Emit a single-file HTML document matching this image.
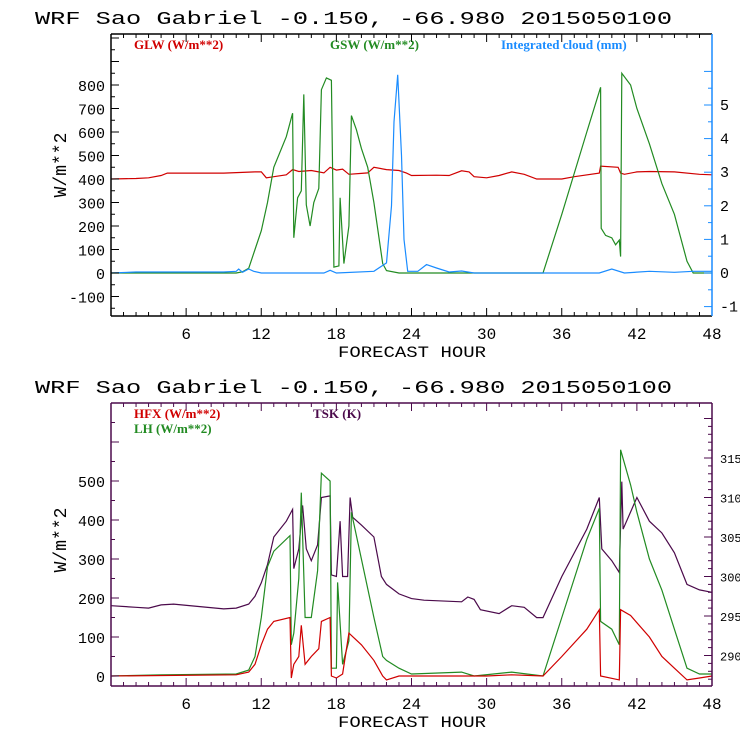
<!DOCTYPE html>
<html><head><meta charset="utf-8"><style>
body{margin:0;background:#fff}
svg{display:block}
text{font-family:"Liberation Mono",monospace}
.lg{font-family:"Liberation Serif",serif;font-size:13px}
</style></head><body>
<svg id="c" width="740" height="740" xmlns="http://www.w3.org/2000/svg"></svg>
<script>
// ---- Top panel data ----
const glwHours=[0,2,3,4,4.5,9,11.5,12,12.4,13,14,14.5,15,16,17,17.5,18,18.5,19,20,20.5,21,22,23,23.6,24,26,27,28,28.6,29,30,31,32,33,34,36,37,39,39.1,40.5,40.7,41,42,43,45,47,48];
const glwValues=[400,402,405,415,425,425,430,430,405,410,418,440,432,436,426,450,438,442,420,424,426,450,440,436,425,415,416,415,435,430,410,405,415,430,420,400,400,410,425,455,450,425,420,430,432,430,420,418];
const gswHours=[0,10,10.5,11,11.5,12,12.5,13,14,14.5,14.6,14.9,15.2,15.4,15.6,15.9,16.2,16.6,16.8,17.2,17.6,17.8,18.2,18.3,18.6,19,19.2,19.6,20,20.5,21,21.7,22,23,34.5,36,38,39.1,39.15,39.5,40,40.3,40.6,40.7,40.8,41.5,42,43,44,45,46,46.5,48];
const gswValues=[0,0,5,20,100,180,300,450,580,680,150,320,350,760,290,200,300,360,780,830,820,25,30,320,40,200,670,610,530,450,300,40,10,0,0,250,600,790,190,160,150,120,140,70,850,800,700,550,380,250,50,0,0];
const cloudHours=[0,2,9,10,10.2,10.5,11,11.4,12,17,17.5,18,21,22,22.4,22.6,22.9,23.2,23.4,23.7,24.5,25.2,26,27,28,29,39,40,41,43,45,46.5,48];
const cloudValues=[0,0.03,0.03,0.05,0.12,0.02,0.12,0.05,0,0,0.08,0,0.05,0.3,2,4.5,5.9,3.5,1,0.05,0.05,0.25,0.15,0.03,0.06,0,0,0.12,0,0.05,0.02,0.05,0.05];
// ---- Bottom panel data ----
const tskHours=[0,2,3,4,5,7,9,10,11,11.5,12,12.5,13,14,14.5,14.6,15,15.3,15.6,16,16.5,16.8,17.5,17.6,18,18.3,18.5,18.9,19.1,19.3,20,21,21.6,22,23,24,25,28,28.5,29,29.5,31,32,33,34,34.5,36,38,39,39.2,40,40.6,40.8,40.9,42,43,44,45,46,47,48];
const tskValues=[296.3,296.1,296,296.4,296.5,296.2,295.9,296,296.5,297.5,299.2,301.5,305,307,308.5,301,303.5,309,303.5,302,304,310,310.2,300.2,300,307,300,300,310,307.5,306.5,305,300,299,297.8,297.2,297,296.8,297.4,297.1,295.8,295.3,296.3,296.1,294.8,294.8,300,306,310,303.5,302,300.5,312,306,310,307,305.5,303,299,298.3,298];
const hfxHours=[0,10,11,11.5,12,12.5,13,14.3,14.4,14.6,15,15.2,15.5,16,16.6,16.8,17.5,17.6,18,18.5,19,20,21,21.7,22,23,24,28,30,32,34.5,36,38,39,39.1,40.6,40.7,41.5,43,44,45,46,47,48];
const hfxValues=[0,3,10,30,80,120,140,150,-5,30,50,130,30,50,70,140,150,0,-5,5,110,80,40,0,-10,0,0,0,0,3,0,50,120,170,0,-10,170,155,100,50,20,-10,-5,0];
const lhHours=[0,4,10,11,11.5,12,12.5,13,14.3,14.4,14.6,15,15.2,15.5,16,16.5,16.8,17.5,17.6,18,18.1,18.5,19,19.2,20,21,21.7,22,23,24,28,29,32,34.5,36,38,39,39.1,40,40.6,40.7,41.5,42,43,44,45,46,47,48];
const lhValues=[0,3,5,15,50,150,280,320,360,80,110,250,470,150,150,270,520,500,20,20,240,30,90,420,300,150,50,40,20,5,10,0,10,0,150,350,430,140,120,80,580,490,420,300,220,120,20,5,5];
const xTicks=[6,12,18,24,30,36,42,48];
const topLeftTicks=[-100,0,100,200,300,400,500,600,700,800];
const topRightTicks=[-1,0,1,2,3,4,5];
const botLeftTicks=[0,100,200,300,400,500];
const botRightTicks=[290,295,300,305,310,315];

const svg=document.getElementById('c');
const NS='http://www.w3.org/2000/svg';
function mk(tag,attrs,parent,txt){const e=document.createElementNS(NS,tag);for(const k in attrs)e.setAttribute(k,attrs[k]);if(txt!==undefined)e.textContent=txt;(parent||svg).appendChild(e);return e;}

function panel(o){
  const g=mk('g',{});
  
  
  const L=111,R=712,T=o.top,B=o.bottom;
  const xs=h=>L+(R-L)*h/48;
  const yl=v=>o.y0+(v-o.l0)*(o.y1-o.y0)/(o.l1-o.l0);
  const yr=v=>o.y0r+(v-o.r0)*(o.y1r-o.y0r)/(o.r1-o.r0);
  const t=mk('text',{x:35,y:T-10,'font-size':18,textLength:637,lengthAdjust:'spacingAndGlyphs'},g,'WRF  Sao Gabriel   -0.150, -66.980  2015050100');
  
  const cid='clip'+o.name;
  const cp=mk('clipPath',{id:cid},g);mk('rect',{x:L,y:T,width:R-L,height:B-T},cp);
  o.series.forEach(s=>{
    const sc=s.axis==='r'?yr:yl;
    const pts=s.h.map((h,i)=>xs(h).toFixed(1)+','+sc(s.v[i]).toFixed(1)).join(' ');
    const p=mk('polyline',{points:pts,fill:'none',stroke:s.color,'stroke-width':1.2,'clip-path':'url(#'+cid+')'},g);
    
  });
  mk('line',{x1:L,y1:T,x2:R,y2:T,stroke:o.frame,'stroke-width':1.5},g);
  mk('line',{x1:L,y1:B,x2:R,y2:B,stroke:o.frame,'stroke-width':1.5},g);
  mk('line',{x1:L,y1:T,x2:L,y2:B,stroke:o.frame,'stroke-width':1.5},g);
  mk('line',{x1:R,y1:T,x2:R,y2:B,stroke:o.rcolor,'stroke-width':1.5},g);
  for(let h=1;h<48;h++){const x=xs(h),len=h%6===0?8:4;
    mk('line',{x1:x,y1:B,x2:x,y2:B-len,stroke:o.frame},g);mk('line',{x1:x,y1:T,x2:x,y2:T+len,stroke:o.frame},g);}
  xTicks.forEach(h=>{const tx=mk('text',{x:xs(h),y:B+23,'font-size':16,'text-anchor':'middle'},g,String(h));
    });
  const xt=mk('text',{x:412,y:B+41,'font-size':16,'text-anchor':'middle',textLength:148,lengthAdjust:'spacingAndGlyphs'},g,'FORECAST HOUR');
  
  for(let v=o.lmin;v<=o.lmax;v+=50){const y=yl(v);if(y<T||y>B)continue;const len=v%100===0?8:4;
    mk('line',{x1:L,y1:y,x2:L+len,y2:y,stroke:o.frame},g);}
  o.lt.forEach(v=>{const tx=mk('text',{x:105,y:yl(v)+6,'font-size':15,'text-anchor':'end'},g,String(v));
    });
  const yt=mk('text',{x:0,y:0,'font-size':18,'text-anchor':'middle',transform:`translate(${o.ytx},${o.yty}) rotate(-90)`},g,'W/m**2');
  
  for(let v=o.rmin;v<=o.rmax+1e-9;v+=o.rstep){const y=yr(v);if(y<T||y>B)continue;const major=Math.abs(v/o.rmajor-Math.round(v/o.rmajor))<1e-6;
    mk('line',{x1:R,y1:y,x2:R-(major?8:4),y2:y,stroke:o.rcolor},g);}
  o.rt.forEach(v=>{const tx=mk('text',{x:R+8,y:yr(v)+5,'font-size':o.rfs,fill:o.rtextcolor},g,String(v));
    });
  o.legend.forEach(l=>{const tx=mk('text',{x:l.x,y:l.y,class:'lg',fill:l.color,'font-weight':'bold'},g,l.text);
    });
}

panel({name:'radiation-panel',top:34,bottom:316,y0:273,l0:0,y1:85,l1:800,lmin:-150,lmax:1000,lt:topLeftTicks,
  y0r:273,r0:0,y1r:105,r1:5,rmin:-1.5,rmax:6,rstep:0.5,rmajor:1,rt:topRightTicks,rcolor:'#1a8cff',rtextcolor:'#000',rfs:15,
  frame:'#000',ytx:66,yty:165,
  series:[{name:'glw-line',h:glwHours,v:glwValues,color:'#d00000',axis:'l'},
          {name:'gsw-line',h:gswHours,v:gswValues,color:'#228b22',axis:'l'},
          {name:'cloud-line',h:cloudHours,v:cloudValues,color:'#1a8cff',axis:'r'}],
  legend:[{x:134,y:49,color:'#d00000',text:'GLW (W/m**2)'},{x:330,y:49,color:'#228b22',text:'GSW (W/m**2)'},{x:501,y:49,color:'#1a8cff',text:'Integrated cloud (mm)'}]});

panel({name:'flux-panel',top:403,bottom:686,y0:676,l0:0,y1:481,l1:500,lmin:-50,lmax:700,lt:botLeftTicks,
  y0r:655.5,r0:290,y1r:458,r1:315,rmin:286,rmax:320,rstep:1,rmajor:5,rt:botRightTicks,rcolor:'#4b0a4b',rtextcolor:'#000',rfs:12,
  frame:'#4b0a4b',ytx:66,yty:540,
  series:[{name:'tsk-line',h:tskHours,v:tskValues,color:'#4b0a4b',axis:'r'},
          {name:'lh-line',h:lhHours,v:lhValues,color:'#228b22',axis:'l'},
          {name:'hfx-line',h:hfxHours,v:hfxValues,color:'#d00000',axis:'l'}],
  legend:[{x:134,y:418,color:'#d00000',text:'HFX (W/m**2)'},{x:134,y:433,color:'#228b22',text:'LH  (W/m**2)'},{x:313,y:418,color:'#4b0a4b',text:'TSK (K)'}]});
</script>
</body></html>
